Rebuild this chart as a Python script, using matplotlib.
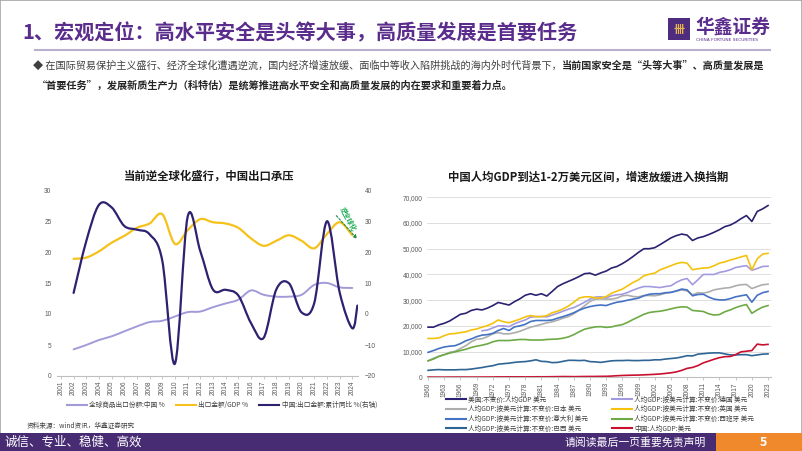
import matplotlib
matplotlib.use('Agg')
import numpy as np
import matplotlib.pyplot as plt
from matplotlib.path import Path
from matplotlib.patches import PathPatch, Rectangle
from matplotlib.lines import Line2D
from matplotlib.ticker import FuncFormatter

plt.rcParams['font.family'] = ['Noto Sans CJK SC', 'DejaVu Sans']

# ---- left chart: China exports ----
axis_years = list(range(2001, 2025))
data_years = list(range(2002, 2025))
share_cn = [4.3, 5.0, 5.8, 6.4, 7.2, 8.0, 8.7, 8.9, 9.6, 10.3,
            10.4, 11.1, 11.7, 12.3, 13.8, 13.1, 12.8, 12.8, 13.1, 14.7,
            15.0, 14.3, 14.2]
export_gdp = [18.9, 19.1, 20.1, 21.5, 22.6, 23.9, 24.6, 26.1, 21.3, 23.5,
              25.3, 24.8, 24.6, 23.9, 22.2, 21.0, 21.8, 22.7, 21.8, 20.6,
              22.9, 24.8, 22.7]
yoy_years = data_years + [2024.4]
export_yoy = [6.8, 23.5, 35.2, 34.4, 28.4, 27.2, 25.7, 17.2, -16.0, 31.3,
              20.3, 7.9, 7.8, 6.0, -2.9, -7.7, 7.9, 9.9, 0.5, 3.6,
              29.9, 7.0, -4.6, 2.7]
left_labels = ['全球商品出口份额:中国 %', '出口金额/GDP %', '中国:出口金额:累计同比 %(右轴)']

# ---- right chart: GDP per capita (thousand USD) ----
gdp_years = list(range(1960, 2024))
de_years = list(range(1970, 2024))
us_k = [19.5, 19.5, 20.4, 21.0, 21.9, 23.2, 24.5, 24.9, 26.0, 26.5,
        26.2, 26.9, 27.9, 29.1, 28.6, 28.1, 29.4, 30.5, 31.9, 32.5,
        31.9, 32.5, 31.6, 33.4, 35.3, 36.4, 37.3, 38.2, 39.2, 40.3,
        40.5, 39.7, 40.6, 41.3, 42.5, 43.1, 44.2, 45.5, 47.0, 48.6,
        50.0, 50.0, 50.4, 51.6, 52.9, 54.2, 55.1, 55.7, 55.3, 53.2,
        54.2, 54.7, 55.5, 56.4, 57.4, 58.6, 59.2, 60.3, 61.7, 62.9,
        60.6, 64.5, 65.5, 66.8]
de_k = [18.1, 18.4, 19.2, 20.0, 20.0, 19.7, 20.8, 21.6, 22.3, 23.4,
        23.6, 23.6, 23.5, 24.2, 24.9, 25.7, 26.5, 27.1, 28.1, 29.2,
        30.4, 31.2, 31.3, 30.9, 31.7, 32.1, 32.3, 33.0, 33.9, 34.7,
        35.3, 35.3, 35.1, 34.9, 35.3, 35.6, 36.9, 37.9, 38.4, 36.0,
        37.9, 40.0, 40.0, 40.0, 40.8, 41.2, 41.8, 42.7, 43.1, 43.4,
        41.6, 42.3, 43.1, 43.2]
jp_k = [6.4, 7.4, 8.2, 8.8, 9.7, 10.1, 11.2, 12.3, 13.8, 14.8,
        15.0, 15.8, 16.9, 17.4, 16.9, 16.9, 17.3, 17.9, 18.7, 19.5,
        20.0, 20.6, 21.2, 21.6, 22.2, 23.0, 23.6, 24.7, 26.2, 27.8,
        29.5, 30.4, 30.5, 30.4, 30.4, 30.8, 31.7, 31.9, 31.4, 31.3,
        31.8, 31.8, 31.7, 32.1, 32.7, 33.1, 33.5, 34.0, 33.6, 32.1,
        32.9, 32.7, 33.2, 34.0, 34.4, 34.7, 34.9, 35.6, 36.0, 36.1,
        34.5, 35.3, 36.0, 36.2]
uk_k = [15.1, 15.1, 15.3, 16.2, 16.9, 17.0, 17.4, 17.7, 18.4, 18.8,
        19.5, 20.1, 21.0, 22.3, 21.6, 21.2, 21.9, 22.6, 23.5, 24.0,
        23.6, 23.6, 24.0, 25.1, 25.7, 26.6, 27.7, 29.2, 30.8, 31.3,
        31.3, 30.9, 30.8, 31.4, 32.7, 33.5, 34.3, 35.6, 36.9, 37.9,
        39.5, 40.1, 40.5, 41.8, 42.6, 43.4, 44.2, 44.7, 44.4, 41.8,
        42.2, 42.5, 42.6, 43.4, 44.4, 44.9, 45.6, 46.2, 46.8, 47.4,
        41.8, 46.1, 47.9, 48.2]
it_k = [9.7, 10.4, 11.2, 11.8, 12.1, 12.3, 13.1, 14.2, 14.9, 15.8,
        16.4, 16.6, 17.1, 18.2, 19.0, 18.2, 19.6, 20.0, 20.6, 21.7,
        22.1, 22.1, 22.1, 22.3, 23.0, 23.6, 24.3, 25.1, 26.1, 26.9,
        27.5, 27.9, 28.1, 27.9, 28.6, 29.2, 29.5, 30.0, 30.4, 30.8,
        31.7, 32.3, 32.5, 32.5, 32.9, 33.0, 33.6, 34.3, 34.0, 31.7,
        32.2, 32.3, 31.2, 30.4, 30.1, 30.1, 30.6, 31.3, 31.7, 32.1,
        29.2, 31.9, 32.9, 33.4]
es_k = [6.4, 7.1, 8.1, 8.8, 9.4, 9.9, 10.4, 10.9, 11.6, 12.1,
        12.5, 13.0, 13.8, 14.3, 14.3, 14.3, 14.5, 14.7, 14.7, 14.5,
        14.5, 14.5, 14.7, 14.8, 14.9, 15.2, 15.7, 16.6, 17.7, 18.7,
        19.2, 19.6, 19.7, 19.4, 19.6, 20.1, 20.5, 21.4, 22.5, 23.5,
        24.5, 25.2, 25.5, 25.7, 26.1, 26.6, 27.1, 27.4, 27.3, 26.0,
        25.8, 25.6, 24.7, 24.2, 24.4, 25.5, 26.2, 27.1, 27.8, 28.3,
        24.9, 26.2, 27.3, 27.9]
br_k = [2.7, 2.9, 3.0, 2.9, 2.9, 2.9, 3.0, 3.0, 3.2, 3.5,
        3.8, 4.2, 4.5, 5.1, 5.3, 5.5, 5.8, 6.0, 6.1, 6.4,
        6.8, 6.2, 6.1, 5.7, 5.8, 6.2, 6.6, 6.6, 6.5, 6.6,
        6.1, 6.0, 5.8, 6.1, 6.4, 6.5, 6.5, 6.6, 6.5, 6.5,
        6.6, 6.6, 6.8, 6.8, 7.1, 7.3, 7.5, 7.9, 8.4, 8.3,
        9.0, 9.2, 9.4, 9.5, 9.5, 9.1, 8.7, 8.7, 8.8, 8.8,
        8.4, 8.7, 9.0, 9.1]
cn_k = [0.09, 0.08, 0.07, 0.07, 0.09, 0.10, 0.10, 0.10, 0.09, 0.10,
        0.11, 0.12, 0.13, 0.16, 0.16, 0.18, 0.17, 0.19, 0.16, 0.18,
        0.19, 0.20, 0.20, 0.23, 0.25, 0.29, 0.28, 0.25, 0.28, 0.31,
        0.32, 0.33, 0.37, 0.38, 0.47, 0.61, 0.71, 0.78, 0.83, 0.87,
        0.96, 1.05, 1.15, 1.29, 1.51, 1.75, 2.10, 2.69, 3.47, 3.83,
        4.55, 5.61, 6.30, 7.02, 7.64, 8.02, 8.09, 8.82, 9.91, 10.14,
        10.41, 12.9, 12.6, 12.8]
right_labels = ['美国:不变价:人均GDP 美元',
                '人均GDP:按美元计算:不变价:日本 美元',
                '人均GDP:按美元计算:不变价:意大利 美元',
                '人均GDP:按美元计算:不变价:巴西 美元',
                '人均GDP:按美元计算:不变价:德国 美元',
                '人均GDP:按美元计算:不变价:英国 美元',
                '人均GDP:按美元计算:不变价:西班牙 美元',
                '中国:人均GDP:美元']

W, H = 802, 451
PURPLE = '#5A2D8C'
GRAY_TXT = '#595959'
NUM_FONT = 'Liberation Sans'


def fx(px):
    return px / W


def fy(py):
    return 1 - py / H


def smooth_path(xs, ys):
    # Catmull-Rom through the points, drawn as cubic bezier segments
    pts = np.column_stack([xs, ys]).astype(float)
    n = len(pts)
    verts = [pts[0]]
    codes = [Path.MOVETO]
    for i in range(n - 1):
        p0 = pts[max(i - 1, 0)]
        p1 = pts[i]
        p2 = pts[i + 1]
        p3 = pts[min(i + 2, n - 1)]
        verts += [p1 + (p2 - p0) / 6.0, p2 - (p3 - p1) / 6.0, p2]
        codes += [Path.CURVE4] * 3
    return Path(verts, codes)


fig = plt.figure(figsize=(W / 100, H / 100), dpi=100)

# ---- slide decoration ----
fig.patches.append(Rectangle((0, 0), 1, 1, transform=fig.transFigure, fill=False,
                             edgecolor='#A6A6A6', lw=1.2))
fig.text(fx(22), fy(33), '1、宏观定位：高水平安全是头等大事，高质量发展是首要任务',
         fontsize=14.5, fontweight='bold', color=PURPLE, va='center', ha='left')
fig.add_artist(Line2D([fx(35), fx(770)], [fy(50), fy(50)], color='#B8B0CC', lw=1.5))
fig.patches.append(Rectangle((fx(668), fy(40)), 22 / W, 22 / H, transform=fig.transFigure,
                             facecolor='#4E2C7E', edgecolor='none'))
fig.text(fx(679), fy(29.5), '卌', fontsize=8, color='#E8B84A', ha='center', va='center',
         fontweight='bold')
fig.text(fx(695), fy(27), '华鑫证券', fontsize=13.5, color=PURPLE, fontweight='bold',
         va='center', ha='left')
fig.text(fx(696), fy(40), 'CHINA FORTUNE SECURITIES', fontsize=3.2, color=PURPLE,
         va='center', ha='left', family='DejaVu Sans')

renderer = fig.canvas.get_renderer()
t1 = fig.text(fx(33), fy(66),
              '◆ 在国际贸易保护主义盛行、经济全球化遭遇逆流，国内经济增速放缓、面临中等收入陷阱挑战的海内外时代背景下，',
              fontsize=7.3, color='#404040', va='center', ha='left')
bb = t1.get_window_extent(renderer=renderer)
fig.text(bb.x1 / fig.bbox.width, fy(66), '当前国家安全是“头等大事”、高质量发展是',
         fontsize=7.3, color='#262626', fontweight='bold', va='center', ha='left')
fig.text(fx(37), fy(86),
         '“首要任务”，发展新质生产力（科特估）是统筹推进高水平安全和高质量发展的内在要求和重要着力点。',
         fontsize=7.3, color='#262626', fontweight='bold', va='center', ha='left')

# footer
fig.patches.append(Rectangle((0, 0), fx(716), 18 / H, transform=fig.transFigure,
                             facecolor='#472B73', edgecolor='none'))
fig.patches.append(Rectangle((fx(716), 0), 86 / W, 18 / H, transform=fig.transFigure,
                             facecolor='#F0892B', edgecolor='none'))
fig.text(fx(5), fy(442), '诚信、专业、稳健、高效', fontsize=9, color='white', va='center')
fig.text(fx(706), fy(442), '请阅读最后一页重要免责声明', fontsize=7.8, color='white',
         va='center', ha='right')
fig.text(fx(763), fy(442), '5', fontsize=9, color='white', va='center', ha='center',
         fontweight='bold')

# ---- left chart ----
ax1 = fig.add_axes([fx(57), fy(376), (358 - 57) / W, (376 - 190) / H])
ax2 = ax1.twinx()
ax1.set_xlim(2000.69, 2024.45)
ax1.set_ylim(0, 30)
ax2.set_ylim(-20, 40)

c_share, c_gdp, c_yoy = '#A29BD9', '#F5C21B', '#2D2170'
ax1.add_patch(PathPatch(smooth_path(data_years, share_cn), fill=False, edgecolor=c_share,
                        lw=1.4, capstyle='round'))
ax1.add_patch(PathPatch(smooth_path(data_years, export_gdp), fill=False, edgecolor=c_gdp,
                        lw=1.6, capstyle='round'))
ax2.add_patch(PathPatch(smooth_path(yoy_years, export_yoy), fill=False, edgecolor=c_yoy,
                        lw=1.6, capstyle='round'))

for a in (ax1, ax2):
    for s in ('top', 'left', 'right', 'bottom'):
        a.spines[s].set_visible(False)
ax1.spines['bottom'].set_visible(True)
ax1.spines['bottom'].set_color('#BFBFBF')
ax1.spines['bottom'].set_linewidth(0.8)
ax1.set_xticks(axis_years)
ax1.set_xticklabels([str(y) for y in axis_years], rotation=90, fontsize=4.7,
                    color=GRAY_TXT, family=NUM_FONT)
ax1.tick_params(axis='x', length=2, width=0.6, color='#BFBFBF', pad=1.5)
ax1.set_yticks(range(0, 31, 5))
ax1.tick_params(axis='y', length=0, pad=4, labelsize=4.7, labelcolor=GRAY_TXT)
ax2.set_yticks(range(-20, 41, 10))
ax2.tick_params(axis='y', length=0, pad=5, labelsize=4.7, labelcolor=GRAY_TXT)
for lab in ax1.get_yticklabels() + ax2.get_yticklabels():
    lab.set_family(NUM_FONT)

fig.text(fx(209), fy(176), '当前逆全球化盛行，中国出口承压', fontsize=8.2,
         fontweight='bold', ha='center', va='center', color='#1A1A1A')

ax1.annotate('', xy=(0.997, 0.737), xytext=(0.928, 0.862), xycoords='axes fraction',
             arrowprops=dict(arrowstyle='-|>', color='#1E8C4A', lw=0.8, linestyle=(0, (2, 1.5)),
                             mutation_scale=5, shrinkA=0, shrinkB=0))
ax1.text(0.968, 0.845, '逆全球化', transform=ax1.transAxes, fontsize=4.8, color='#1AAA55',
         rotation=-62, ha='center', va='center', fontweight='bold')

left_handles = [Line2D([], [], color=c, lw=1.5) for c in (c_share, c_gdp, c_yoy)]
fig.legend(left_handles, left_labels, loc='center', bbox_to_anchor=(fx(222), fy(405)),
           ncol=3, frameon=False, fontsize=4.8, handlelength=3.0, handletextpad=0.4,
           columnspacing=1.6, labelcolor='#404040')
fig.text(fx(27), fy(426), '资料来源：wind资讯，华鑫证券研究', fontsize=4.8, color='#404040',
         va='center', ha='left')

# ---- right chart ----
ax3 = fig.add_axes([fx(427), fy(377.3), (771 - 427) / W, (377.3 - 197.3) / H])
ax3.set_xlim(1959.8, 2023.55)
ax3.set_ylim(0, 70000)

series = [
    (gdp_years, us_k, '#2B2372'),
    (gdp_years, jp_k, '#ADADAD'),
    (gdp_years, it_k, '#4472C4'),
    (gdp_years, br_k, '#2F6595'),
    (de_years, de_k, '#A39BE0'),
    (gdp_years, uk_k, '#F4C20D'),
    (gdp_years, es_k, '#6DAA45'),
    (gdp_years, cn_k, '#C8102E'),
]
right_handles = []
for xs, ys, col in series:
    ln, = ax3.plot(xs, np.array(ys) * 1000, color=col, lw=1.2, solid_joinstyle='round')
    right_handles.append(Line2D([], [], color=col, lw=1.5))

ax3.grid(axis='y', color='#D9D9D9', lw=0.6)
ax3.set_axisbelow(True)
for s in ('top', 'left', 'right'):
    ax3.spines[s].set_visible(False)
ax3.spines['bottom'].set_color('#BFBFBF')
ax3.spines['bottom'].set_linewidth(0.8)
ax3.set_yticks(range(0, 70001, 10000))
ax3.yaxis.set_major_formatter(FuncFormatter(lambda v, p: '{:,.0f}'.format(v)))
ax3.tick_params(axis='y', length=0, pad=3, labelsize=4.7, labelcolor=GRAY_TXT)
xt = gdp_years[::3]
ax3.set_xticks(xt)
ax3.set_xticklabels([str(y) for y in xt], rotation=90, fontsize=4.7, color=GRAY_TXT)
ax3.tick_params(axis='x', length=2, width=0.6, color='#BFBFBF', pad=1.5)
for lab in ax3.get_yticklabels() + ax3.get_xticklabels():
    lab.set_family(NUM_FONT)

fig.text(fx(588), fy(177), '中国人均GDP到达1-2万美元区间，增速放缓进入换挡期', fontsize=8.2,
         fontweight='bold', ha='center', va='center', color='#1A1A1A')

fig.legend(right_handles, right_labels, loc='center', bbox_to_anchor=(fx(600), fy(414)),
           ncol=2, frameon=False, fontsize=4.8, handlelength=3.0, handletextpad=0.4,
           columnspacing=3.5, labelspacing=0.25, labelcolor='#404040')

fig.savefig('out.png', dpi=100)
